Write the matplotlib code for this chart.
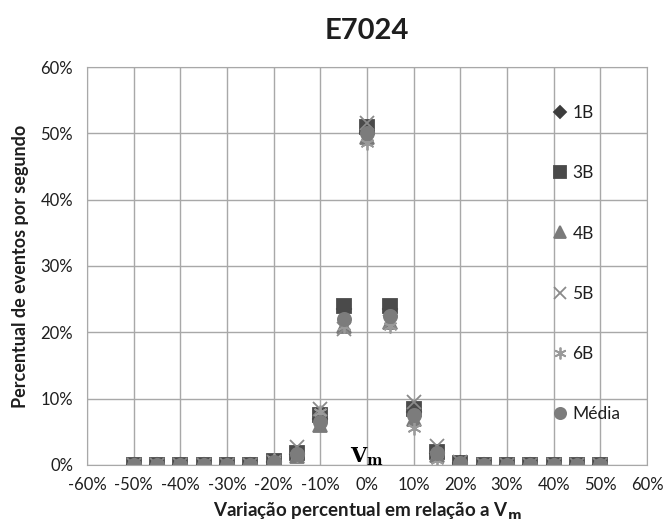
import matplotlib
matplotlib.use("Agg")
import matplotlib.pyplot as plt
from matplotlib.ticker import FuncFormatter

# percentual variation relative to Vm
variacao = [-50, -45, -40, -35, -30, -25, -20, -15, -10, -5, 0,
            5, 10, 15, 20, 25, 30, 35, 40, 45, 50]

# events per second (%) per sensor
b1 = [0, 0, 0, 0, 0, 0, 0.5, 1.7, 7.0, 23.5, 50.0,
      23.5, 8.0, 1.8, 0.3, 0, 0, 0, 0, 0, 0]
b3 = [0, 0, 0, 0, 0, 0, 0.6, 1.8, 7.5, 24.0, 51.0,
      24.0, 8.5, 2.0, 0.3, 0, 0, 0, 0, 0, 0]
b4 = [0, 0, 0, 0, 0, 0, 0.3, 1.3, 6.0, 21.0, 49.5,
      21.5, 7.0, 1.5, 0.2, 0, 0, 0, 0, 0, 0]
b5 = [0, 0, 0, 0, 0, 0, 0.4, 2.7, 8.5, 20.5, 51.5,
      21.5, 9.5, 2.8, 0.4, 0, 0, 0, 0, 0, 0]
b6 = [0, 0, 0, 0, 0, 0, 0.7, 1.5, 8.0, 21.0, 48.5,
      21.0, 5.5, 0.8, 0.2, 0, 0, 0, 0, 0, 0]
media = [0, 0, 0, 0, 0, 0, 0.5, 1.6, 6.5, 22.0, 50.0,
         22.5, 7.5, 1.8, 0.3, 0, 0, 0, 0, 0, 0]

plt.rcParams["font.family"] = ["Lato", "DejaVu Sans"]

fig = plt.figure(figsize=(6.66, 5.32), dpi=100)
ax = fig.add_axes([0.1306, 0.126, 0.8409, 0.748])

series = [
    (b1, "1B", "D", "#3c3c3c", 7.5),
    (b3, "3B", "s", "#4a4a4a", 9.5),
    (b4, "4B", "^", "#7a7a7a", 9.5),
    (b5, "5B", "x", "#8a8a8a", 10),
    (b6, "6B", (6, 2, 0), "#9a9a9a", 10),
    (media, "Média", "o", "#7c7c7c", 9.5),
]
for vals, lab, mk, col, ms in series:
    ax.plot(variacao, vals, linestyle="none", marker=mk, color=col,
            markersize=ms, markeredgewidth=1.3, label=lab)

ax.set_xlim(-60, 60)
ax.set_ylim(0, 60)
ax.set_xticks(range(-60, 61, 10))
ax.set_yticks(range(0, 61, 10))
ax.xaxis.set_major_formatter(FuncFormatter(lambda v, p: f"{v:.0f}%"))
ax.yaxis.set_major_formatter(FuncFormatter(lambda v, p: f"{v:.0f}%"))
ax.tick_params(labelsize=12, length=0, colors="#1e1e1e")
ax.tick_params(axis="x", pad=9)
ax.tick_params(axis="y", pad=10)
ax.grid(True, color="#a8a8a8", linewidth=1)
ax.set_axisbelow(True)
for s in ax.spines.values():
    s.set_color("#a8a8a8")

ax.text(0, 1.2, r"$\mathbf{V_m}$", ha="center", va="center", fontsize=15,
        family="DejaVu Serif", math_fontfamily="dejavuserif")

ax.set_title("E7024", fontsize=21, fontweight="bold", pad=20, color="#1e1e1e")
ax.set_xlabel(r"Variação percentual em relação a V$_\mathbf{m}$", fontsize=13.5,
              fontweight="bold", color="#1e1e1e", labelpad=5)
ax.set_ylabel("Percentual de eventos por segundo", fontsize=13,
              fontweight="bold", color="#1e1e1e", labelpad=8)

ax.legend(loc="upper left", bbox_to_anchor=(0.822, 0.922), frameon=False,
          fontsize=12.5, labelspacing=2.55, handlelength=0.7, handletextpad=0.35,
          borderaxespad=0, markerscale=0.85, labelcolor="#1e1e1e")

fig.savefig("out.png", dpi=100)
